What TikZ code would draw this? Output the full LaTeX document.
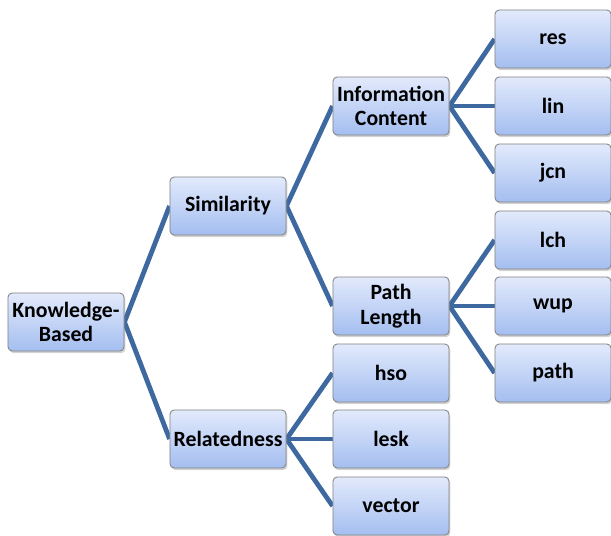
\documentclass[tikz,border=0pt]{standalone}
\usepackage{fontspec}
\setmainfont{Carlito}
\usetikzlibrary{shadows, backgrounds}

\definecolor{linkblue}{RGB}{62,104,160}
\definecolor{boxtop}{RGB}{226,234,252}
\definecolor{boxbot}{RGB}{164,190,240}
\definecolor{boxline}{RGB}{130,130,130}

\begin{document}
\begin{tikzpicture}
        [x=0.025cm, y=-0.025cm,
         box/.style={rectangle, rounded corners=3pt, draw=boxline, line width=0.6pt,
                     top color=boxtop, bottom color=boxbot,
                     minimum width=2.9cm, minimum height=1.45cm, align=center,
                     font=\fontsize{15.5}{17.5}\selectfont\bfseries, inner sep=1pt,
                     drop shadow={opacity=0.35, shadow xshift=1pt, shadow yshift=-1.5pt}},
         link/.style={draw=linkblue, line width=3.4pt}]
        \useasboundingbox (0,0) rectangle (611,536);

        \node[box] (KB) at (66,322) {Knowledge-\\Based};
        \node[box] (SIM) at (228,206) {Similarity};
        \node[box] (REL) at (228,439) {Relatedness};
        \node[box] (IC) at (391,106) {Information\\Content};
        \node[box] (PL) at (391,306) {Path\\Length};
        \node[box] (res) at (553,39) {res};
        \node[box] (lin) at (553,106) {lin};
        \node[box] (jcn) at (553,173) {jcn};
        \node[box] (lch) at (553,240) {lch};
        \node[box] (wup) at (553,306) {wup};
        \node[box] (path) at (553,373) {path};
        \node[box] (hso) at (391,373) {hso};
        \node[box] (lesk) at (391,439) {lesk};
        \node[box] (vector) at (391,506) {vector};

        % links behind the boxes
        \begin{scope}[on background layer]
        \foreach \from/\to in {KB/SIM, KB/REL, SIM/IC, SIM/PL, IC/res, IC/lin, IC/jcn,
                               PL/lch, PL/wup, PL/path, REL/hso, REL/lesk, REL/vector}
            \path[link] (\from.east) -- (\to.west);
        \end{scope}
\end{tikzpicture}
\end{document}
